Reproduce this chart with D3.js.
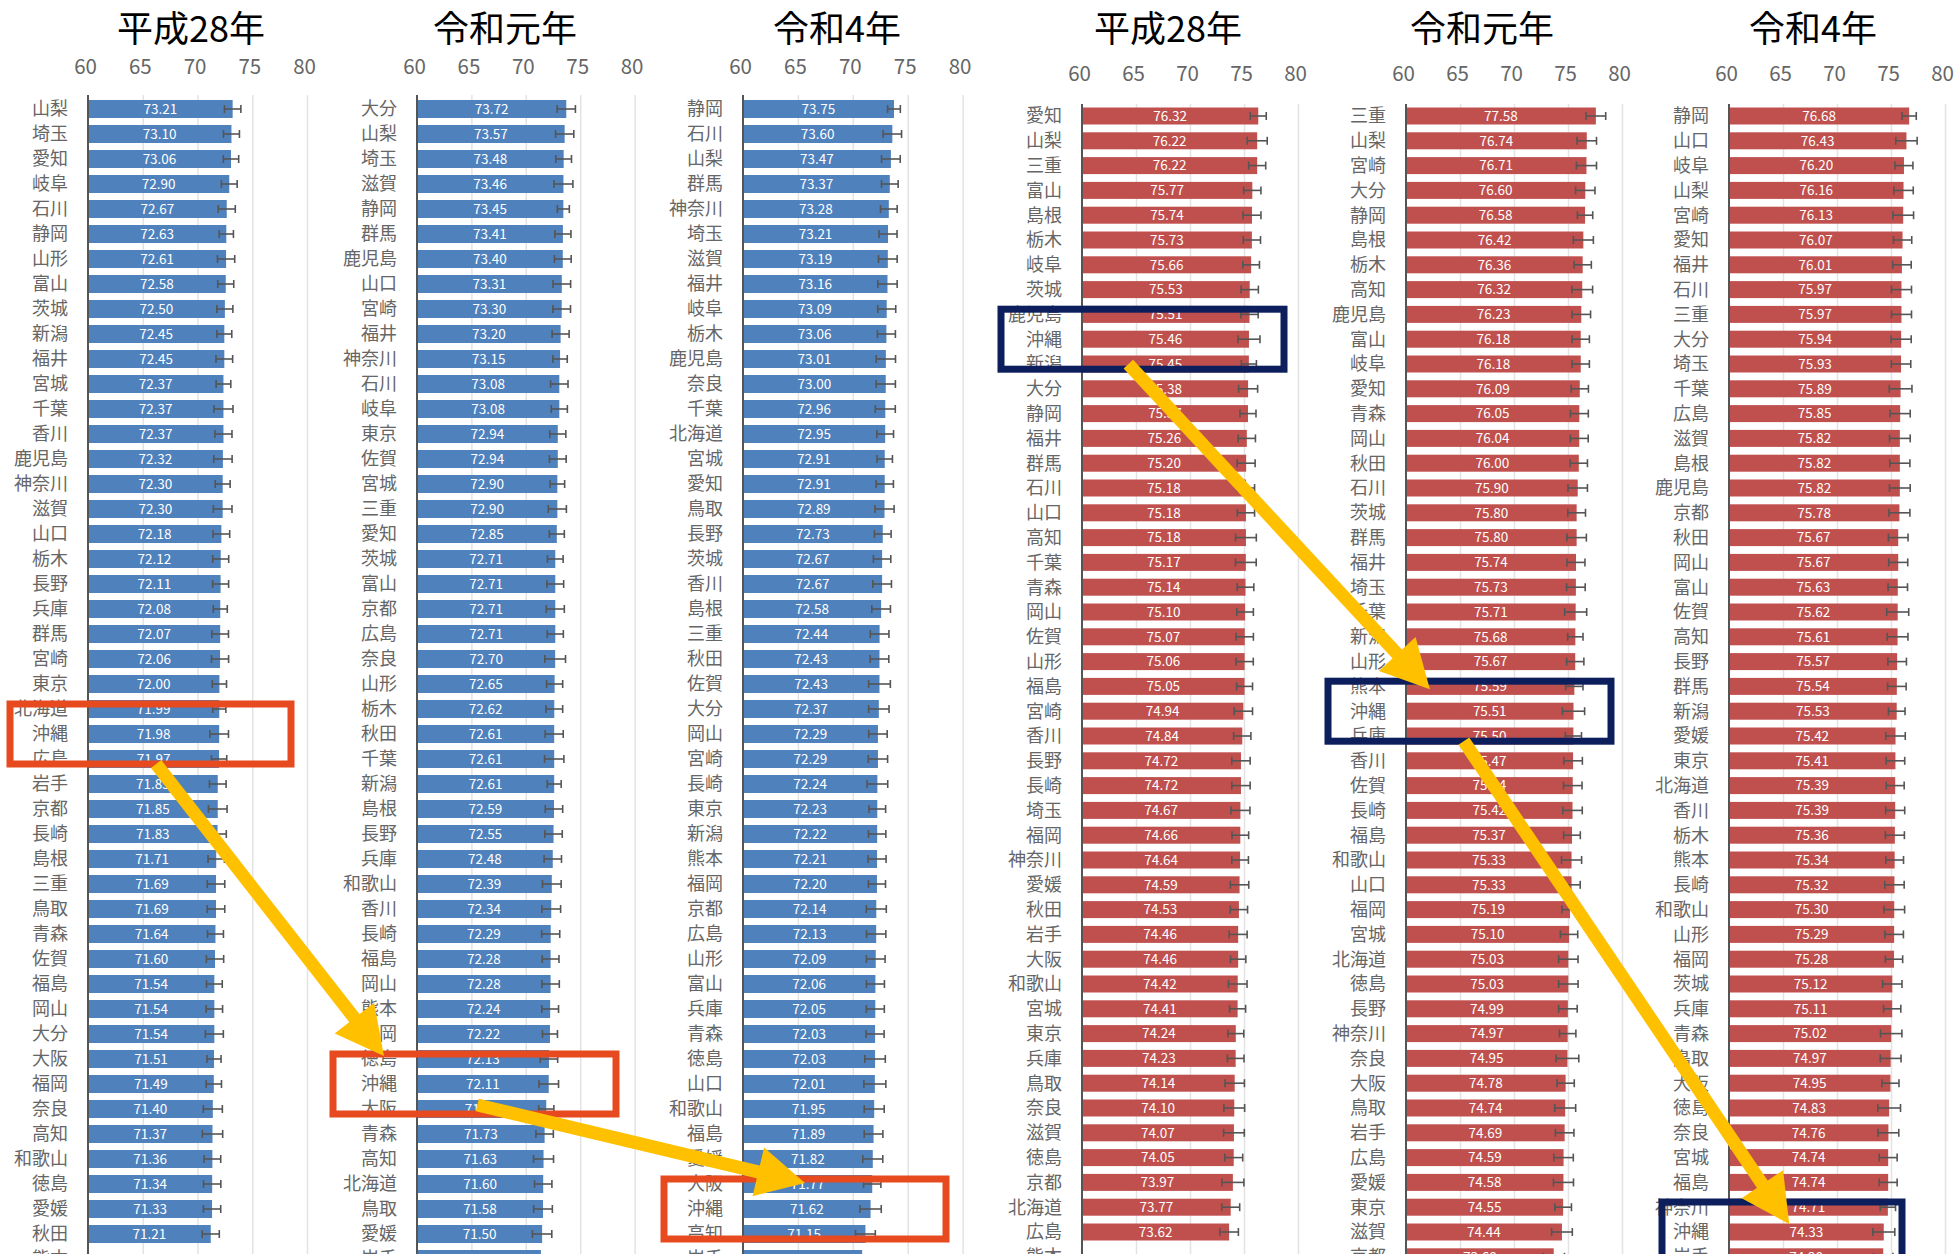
<!DOCTYPE html>
<html><head><meta charset="utf-8">
<script src="https://cdn.jsdelivr.net/npm/d3@7"></script>
<style>
  html,body{margin:0;padding:0;background:#fff}
  svg{display:block}
  text{font-family:"Noto Sans CJK JP","Noto Sans",sans-serif}
</style>
</head><body>
<svg id="chart" width="1959" height="1254"></svg>
<script>
// 健康寿命（都道府県別）: 男性（青）・女性（赤）, 平成28年 / 令和元年 / 令和4年
const axisTicks = [60, 65, 70, 75, 80];

// 男性 平成28年 (熊本は未集計)
const catsM28 = ["山梨","埼玉","愛知","岐阜","石川","静岡","山形","富山","茨城","新潟","福井","宮城","千葉","香川","鹿児島","神奈川","滋賀","山口","栃木","長野","兵庫","群馬","宮崎","東京","北海道","沖縄","広島","岩手","京都","長崎","島根","三重","鳥取","青森","佐賀","福島","岡山","大分","大阪","福岡","奈良","高知","和歌山","徳島","愛媛","秋田","熊本"];
const valsM28 = [73.21,73.10,73.06,72.90,72.67,72.63,72.61,72.58,72.50,72.45,72.45,72.37,72.37,72.37,72.32,72.30,72.30,72.18,72.12,72.11,72.08,72.07,72.06,72.00,71.99,71.98,71.97,71.85,71.85,71.83,71.71,71.69,71.69,71.64,71.60,71.54,71.54,71.54,71.51,71.49,71.40,71.37,71.36,71.34,71.33,71.21,null];
const errM28 = [0.75,0.73,0.70,0.72,0.78,0.65,0.79,0.73,0.73,0.68,0.76,0.67,0.87,0.78,0.84,0.68,0.85,0.76,0.73,0.73,0.64,0.76,0.78,0.65,0.60,0.85,0.70,0.76,0.85,0.80,0.75,0.80,0.80,0.73,0.79,0.72,0.75,0.82,0.64,0.70,0.87,0.93,0.76,0.79,0.79,0.78,null];

// 男性 令和元年
const catsM01 = ["大分","山梨","埼玉","滋賀","静岡","群馬","鹿児島","山口","宮崎","福井","神奈川","石川","岐阜","東京","佐賀","宮城","三重","愛知","茨城","富山","京都","広島","奈良","山形","栃木","秋田","千葉","新潟","島根","長野","兵庫","和歌山","香川","長崎","福島","岡山","熊本","福岡","徳島","沖縄","大阪","青森","高知","北海道","鳥取","愛媛","岩手"];
const valsM01 = [73.72,73.57,73.48,73.46,73.45,73.41,73.40,73.31,73.30,73.20,73.15,73.08,73.08,72.94,72.94,72.90,72.90,72.85,72.71,72.71,72.71,72.71,72.70,72.65,72.62,72.61,72.61,72.61,72.59,72.55,72.48,72.39,72.34,72.29,72.28,72.28,72.24,72.22,72.13,72.11,71.88,71.73,71.63,71.60,71.58,71.50,71.39];
const errM01 = [0.84,0.84,0.72,0.87,0.55,0.74,0.77,0.81,0.81,0.78,0.66,0.80,0.74,0.74,0.77,0.67,0.83,0.69,0.72,0.77,0.83,0.74,0.95,0.74,0.77,0.83,0.89,0.64,0.80,0.80,0.80,0.86,0.86,0.83,0.77,0.80,0.77,0.69,0.80,0.90,0.70,0.80,0.92,0.80,0.86,0.89,0.80];

// 男性 令和4年
const catsM04 = ["静岡","石川","山梨","群馬","神奈川","埼玉","滋賀","福井","岐阜","栃木","鹿児島","奈良","千葉","北海道","宮城","愛知","鳥取","長野","茨城","香川","島根","三重","秋田","佐賀","大分","岡山","宮崎","長崎","東京","新潟","熊本","福岡","京都","広島","山形","富山","兵庫","青森","徳島","山口","和歌山","福島","愛媛","大阪","沖縄","高知","岩手"];
const valsM04 = [73.75,73.60,73.47,73.37,73.28,73.21,73.19,73.16,73.09,73.06,73.01,73.00,72.96,72.95,72.91,72.91,72.89,72.73,72.67,72.67,72.58,72.44,72.43,72.43,72.37,72.29,72.29,72.24,72.23,72.22,72.21,72.20,72.14,72.13,72.09,72.06,72.05,72.03,72.03,72.01,71.95,71.89,71.82,71.77,71.62,71.15,70.85];
const errM04 = [0.58,0.84,0.85,0.76,0.76,0.82,0.85,0.88,0.82,0.82,0.88,0.88,0.91,0.76,0.70,0.79,0.87,0.76,0.79,0.85,0.85,0.85,0.85,0.99,0.93,0.84,0.88,0.94,0.76,0.79,0.82,0.78,0.91,0.88,0.85,0.82,0.82,0.82,0.93,1.00,0.91,0.85,0.91,0.79,0.97,0.90,0.90];

// 女性 平成28年 (熊本は未集計)
const catsF28 = ["愛知","山梨","三重","富山","島根","栃木","岐阜","茨城","鹿児島","沖縄","新潟","大分","静岡","福井","群馬","石川","山口","高知","千葉","青森","岡山","佐賀","山形","福島","宮崎","香川","長野","長崎","埼玉","福岡","神奈川","愛媛","秋田","岩手","大阪","和歌山","宮城","東京","兵庫","鳥取","奈良","滋賀","徳島","京都","北海道","広島","熊本"];
const valsF28 = [76.32,76.22,76.22,75.77,75.74,75.73,75.66,75.53,75.51,75.46,75.45,75.38,75.37,75.26,75.20,75.18,75.18,75.18,75.17,75.14,75.10,75.07,75.06,75.05,74.94,74.84,74.72,74.72,74.67,74.66,74.64,74.59,74.53,74.46,74.46,74.42,74.41,74.24,74.23,74.14,74.10,74.07,74.05,73.97,73.77,73.62,null];
const errF28 = [0.74,0.93,0.79,0.80,0.83,0.80,0.77,0.80,0.80,1.02,0.70,0.88,0.74,0.80,0.83,0.80,0.80,0.96,0.96,0.77,0.77,0.80,0.80,0.74,0.85,0.80,0.85,0.85,0.88,0.77,0.77,0.85,0.80,0.83,0.71,0.86,0.74,0.74,0.77,0.90,0.96,0.96,0.83,1.02,0.83,0.86,null];

// 女性 令和元年
const catsF01 = ["三重","山梨","宮崎","大分","静岡","島根","栃木","高知","鹿児島","富山","岐阜","愛知","青森","岡山","秋田","石川","茨城","群馬","福井","埼玉","千葉","新潟","山形","熊本","沖縄","兵庫","香川","佐賀","長崎","福島","和歌山","山口","福岡","宮城","北海道","徳島","長野","神奈川","奈良","大阪","鳥取","岩手","広島","愛媛","東京","滋賀","京都"];
const valsF01 = [77.58,76.74,76.71,76.60,76.58,76.42,76.36,76.32,76.23,76.18,76.18,76.09,76.05,76.04,76.00,75.90,75.80,75.80,75.74,75.73,75.71,75.68,75.67,75.59,75.51,75.50,75.47,75.44,75.42,75.37,75.33,75.33,75.19,75.10,75.03,75.03,74.99,74.97,74.95,74.78,74.74,74.69,74.59,74.58,74.55,74.44,73.68];
const errF01 = [0.91,0.90,0.93,0.90,0.71,0.93,0.80,0.96,0.86,0.80,0.80,0.80,0.83,0.83,0.80,0.90,0.82,0.90,0.83,0.86,1.02,0.71,0.80,0.80,1.03,0.75,0.86,0.86,0.90,0.77,0.93,0.80,0.75,0.80,0.90,0.90,0.86,0.76,1.05,0.80,0.97,0.86,0.90,0.93,0.77,0.96,0.99];

// 女性 令和4年
const catsF04 = ["静岡","山口","岐阜","山梨","宮崎","愛知","福井","石川","三重","大分","埼玉","千葉","広島","滋賀","島根","鹿児島","京都","秋田","岡山","富山","佐賀","高知","長野","群馬","新潟","愛媛","東京","北海道","香川","栃木","熊本","長崎","和歌山","山形","福岡","茨城","兵庫","青森","鳥取","大阪","徳島","奈良","宮城","福島","神奈川","沖縄","岩手"];
const valsF04 = [76.68,76.43,76.20,76.16,76.13,76.07,76.01,75.97,75.97,75.94,75.93,75.89,75.85,75.82,75.82,75.82,75.78,75.67,75.67,75.63,75.62,75.61,75.57,75.54,75.53,75.42,75.41,75.39,75.39,75.36,75.34,75.32,75.30,75.29,75.28,75.12,75.11,75.02,74.97,74.95,74.83,74.76,74.74,74.74,74.71,74.33,74.28];
const errF04 = [0.66,0.99,0.83,0.90,0.96,0.85,0.86,0.93,0.93,0.93,0.90,1.05,0.93,0.96,0.93,0.96,0.97,0.91,0.88,0.90,1.02,0.96,0.86,0.86,0.77,0.90,0.86,0.83,0.88,0.88,0.82,0.90,0.96,0.86,0.80,0.90,0.80,0.99,0.96,0.79,1.05,0.96,0.83,0.83,0.71,1.02,0.90];

const titles = ["平成28年","令和元年","令和4年","平成28年","令和元年","令和4年"];
const focus = "沖縄";

// ---- layout of the six small charts ----
const BLUE = "#4F81BD", RED = "#C0504D";
const BOX_RED = "#E64A1E", BOX_NAVY = "#0C1F5C", ARROW = "#FFC000";
const blueRows = {first:109, step:25.0, barH:18, tickY:74, gridTop:95};
const redRows  = {first:116, step:24.8, barH:17, tickY:81, gridTop:104};

const panels = [
  {cats:catsM28, vals:valsM28, errs:errM28, fill:BLUE, rows:blueRows, x0:88,   k:10.95, titleX:191,  box:[-78,203], boxColor:BOX_RED},
  {cats:catsM01, vals:valsM01, errs:errM01, fill:BLUE, rows:blueRows, x0:417,  k:10.88, titleX:505,  box:[-84,199], boxColor:BOX_RED},
  {cats:catsM04, vals:valsM04, errs:errM04, fill:BLUE, rows:blueRows, x0:743,  k:10.98, titleX:837,  box:[-79,203], boxColor:BOX_RED},
  {cats:catsF28, vals:valsF28, errs:errF28, fill:RED,  rows:redRows,  x0:1082, k:10.80, titleX:1168, box:[-81,202], boxColor:BOX_NAVY},
  {cats:catsF01, vals:valsF01, errs:errF01, fill:RED,  rows:redRows,  x0:1406, k:10.80, titleX:1482, box:[-78,205], boxColor:BOX_NAVY},
  {cats:catsF04, vals:valsF04, errs:errF04, fill:RED,  rows:redRows,  x0:1729, k:10.80, titleX:1813, box:[-67,173], boxColor:BOX_NAVY}
];

const svg = d3.select("#chart");
const H = 1254;
const boxes = [];

panels.forEach((p, pi) => {
  const r = p.rows;
  const x = d3.scaleLinear().domain([60, 80]).range([p.x0, p.x0 + 20 * p.k]);
  const y = d3.scalePoint().domain(p.cats).range([r.first, r.first + (p.cats.length - 1) * r.step]);
  const g = svg.append("g");
  const rows = p.cats.map((c, i) => ({cat:c, v:p.vals[i], e:p.errs[i]}));

  // vertical gridlines
  g.append("g").attr("transform", `translate(0,${r.gridTop})`)
    .call(d3.axisBottom(x).tickValues(axisTicks.slice(1)).tickSize(H - r.gridTop).tickFormat(""))
    .call(a => a.select(".domain").remove())
    .call(a => a.selectAll("line").attr("stroke", "#e3e3e3").attr("stroke-width", 1.5));

  // tick labels on top
  g.append("g").attr("transform", `translate(-3,${r.tickY})`)
    .call(d3.axisTop(x).tickValues(axisTicks).tickSize(0).tickPadding(0))
    .call(a => a.select(".domain").remove())
    .call(a => a.selectAll("text").attr("fill", "#666").attr("font-size", 20.5)
      .attr("font-family", '"Noto Sans","Open Sans",sans-serif'));

  // bars
  const withVal = rows.filter(d => d.v != null);
  g.selectAll("rect.bar").data(withVal).join("rect").attr("class", "bar")
    .attr("x", x(60)).attr("y", d => y(d.cat) - r.barH / 2)
    .attr("width", d => x(d.v) - x(60)).attr("height", r.barH)
    .attr("fill", p.fill);

  // category axis line
  g.append("line").attr("x1", x(60)).attr("x2", x(60))
    .attr("y1", r.gridTop).attr("y2", H)
    .attr("stroke", "#555").attr("stroke-width", 2);

  // error bars
  const eb = g.selectAll("g.err").data(withVal).join("g").attr("class", "err")
    .attr("stroke", "#555").attr("stroke-width", 1.6);
  eb.append("line").attr("x1", d => x(d.v - d.e)).attr("x2", d => x(d.v + d.e))
    .attr("y1", d => y(d.cat)).attr("y2", d => y(d.cat));
  eb.append("line").attr("x1", d => x(d.v - d.e)).attr("x2", d => x(d.v - d.e))
    .attr("y1", d => y(d.cat) - 4).attr("y2", d => y(d.cat) + 4);
  eb.append("line").attr("x1", d => x(d.v + d.e)).attr("x2", d => x(d.v + d.e))
    .attr("y1", d => y(d.cat) - 4).attr("y2", d => y(d.cat) + 4);

  // value labels inside bars
  g.selectAll("text.val").data(withVal).join("text").attr("class", "val")
    .attr("x", d => (x(60) + x(d.v)) / 2).attr("y", d => y(d.cat))
    .attr("dy", "0.36em").attr("text-anchor", "middle")
    .attr("font-size", 13.5).attr("fill", "#fff")
    .text(d => d.v.toFixed(2));

  // prefecture names
  g.selectAll("text.cat").data(rows).join("text").attr("class", "cat")
    .attr("x", x(60) - 20).attr("y", d => y(d.cat))
    .attr("dy", "0.36em").attr("text-anchor", "end")
    .attr("font-size", 18).attr("fill", "#666")
    .text(d => d.cat);

  // title
  g.append("text").attr("x", p.titleX).attr("y", 42)
    .attr("text-anchor", "middle").attr("font-size", 36).attr("font-weight", 400)
    .attr("fill", "#000").text(titles[pi]);

  // frame around 沖縄
  const cy = y(focus);
  const b = {x0:p.x0 + p.box[0], x1:p.x0 + p.box[1], y0:cy - 30, y1:cy + 30};
  boxes.push(b);
  svg.append("rect").attr("class", "focus")
    .attr("x", b.x0).attr("y", b.y0).attr("width", b.x1 - b.x0).attr("height", b.y1 - b.y0)
    .attr("fill", "none").attr("stroke", p.boxColor).attr("stroke-width", 7);
});

// arrows linking the 沖縄 frames: [from, fromFrac, fromDy, to, toFrac, toDy]
const links = [
  [0, 0.52, 0, 1, 0.18, 2],
  [1, 0.51, -9, 2, 0.50, 4],
  [3, 0.45, -5, 4, 0.36, 8],
  [4, 0.48, 0, 5, 0.53, 22]
];
const arrowLayer = svg.append("g");
links.forEach(([a, fa, da, bIdx, fb, db]) => {
  const A = boxes[a], B = boxes[bIdx];
  const sx = A.x0 + fa * (A.x1 - A.x0), sy = A.y1 + da;
  const tx = B.x0 + fb * (B.x1 - B.x0), ty = B.y0 + db;
  const len = Math.hypot(tx - sx, ty - sy);
  const ux = (tx - sx) / len, uy = (ty - sy) / len;
  const headL = 48, headW = 25;
  const bx = tx - ux * headL, by = ty - uy * headL;
  arrowLayer.append("line").attr("x1", sx).attr("y1", sy).attr("x2", bx + ux * 4).attr("y2", by + uy * 4)
    .attr("stroke", ARROW).attr("stroke-width", 13);
  arrowLayer.append("path")
    .attr("d", d3.line()([[tx, ty], [bx - uy * headW, by + ux * headW], [bx + uy * headW, by - ux * headW]]) + "Z")
    .attr("fill", ARROW);
});
</script>
</body></html>
